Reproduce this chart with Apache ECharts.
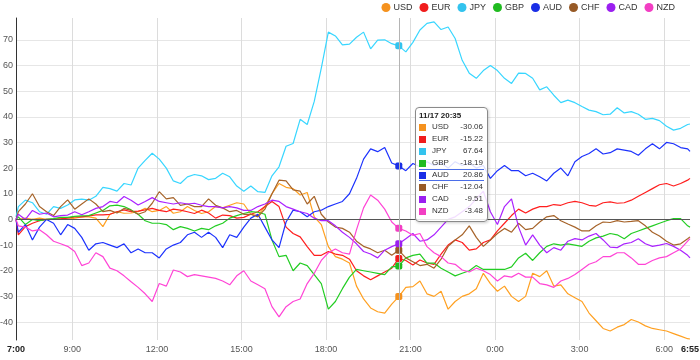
<!DOCTYPE html>
<html>
<head>
<meta charset="utf-8">
<script src="https://cdn.jsdelivr.net/npm/echarts@6/dist/echarts.min.js"></script>
<style>
html,body{margin:0;padding:0;background:#fff;}
#c{width:700px;height:360px;}
</style>
</head>
<body>
<div id="c"></div>
<script>
// sample times (7:00 on 11/17 to 6:55 on 11/18)
const times = ['7:00','7:05','7:20','7:35','7:50','8:05','8:20','8:35','8:50','9:05','9:20','9:35','9:50',
'10:05','10:20','10:35','10:50','11:05','11:20','11:35','11:50','12:05','12:20','12:35','12:50',
'13:05','13:20','13:35','13:50','14:05','14:20','14:35','14:50','15:05','15:20','15:35','15:50',
'16:05','16:20','16:35','16:50','17:05','17:20','17:35','17:50','18:05','18:20','18:35','18:50',
'19:05','19:20','19:35','19:50','20:05','20:20','20:35','20:50','21:05','21:20','21:35','21:50',
'22:05','22:20','22:35','22:50','23:05','23:20','23:35','23:50','0:05','0:20','0:35','0:50',
'1:05','1:20','1:35','1:50','2:05','2:20','2:35','2:50','3:05','3:20','3:35','3:50',
'4:05','4:20','4:35','4:50','5:05','5:20','5:35','5:50','6:05','6:20','6:35','6:50','6:55'];

const USD = [0,
 0,0.5,0,0.5, 0,0,0.5,0, 0.5,1,1,0.5, -2.8,2,3,2.4, 2.5,3,4.3,3, 3.5,5,2.4,3,
 5,3.5,2.3,3, 5,4.5,5.5,6.5, 6,2,1.5,5, 10,14,12.5,12, 9.5,10.5,1,-2, -10.6,-14.5,-15.5,-17,
 -26,-31,-34.5,-36, -36.5,-33,-30.06,-26.5, -26.2,-24,-29,-30, -28,-35,-32,-30, -29,-27,-21,-25, -28,-26,-30,-32,
 -30,-21,-22.3,-20, -26,-25.5,-29,-30.5, -32,-36.5,-39.5,-42.5, -43.5,-42,-41,-39, -40,-41.5,-42.5,-43, -43.5,-44.5,-45.5,-46.5,
 -46.6];
const EUR = [0,
 -6,-2.8,-1.5,-0.5, 0,0,0.2,0.5, 1,1,1.4,1.8, 1.8,2,3,3.7, 3,3.2,3.7,4.3, 3.5,3,4,3.6,
 3,2.3,3.6,2.5, 0.5,1.7,1.5,0.5, 0.8,2,3,5, 7,5,-3,-5.5, -6.8,-10.6,-14,-14, -12.5,-13.5,-14,-15.5,
 -20,-22,-23.5,-22, -20.5,-19,-15.22,-16, -17.8,-15.8,-17,-17.5, -13.5,-10,-8,-9, -12,-11.5,-9,-8, -4.5,-1.5,1.5,4,
 2.5,4,5,5, 5.8,5.5,6.5,7, 6.5,5.5,5.2,6.5, 6.8,6.3,6.5,7.5, 9,10.5,12,13.5, 14,13,14,15.3,
 16];
const JPY = [1,
 5,7.5,6.5,3, 2,5,4.3,5.6, 7.6,7.9,7.5,9, 12.5,12,11,14, 13.4,20,23,25.8, 23.5,20,15,14,
 16.6,17.5,17,15.5, 16,18,16.6,13, 11,13,10.8,10.5, 17,20.5,28.5,29.6, 39,37,46,59, 73,71.5,68,68.3,
 71,73,66.5,69.9, 70,68.5,67.64,65.3, 69,73.8,76.4,77, 74,75,70.5,62, 57,55,58,60, 58,55,53,57,
 56.9,55,50.5,51.7, 48.4,45.5,46.5,45.5, 44,42.6,42,40.8, 41,43.5,41.5,42, 41,39,39.4,38.5, 36.3,34.8,35.5,37,
 37.2];
const GBP = [0,
 1,-2,0,-0.5, 0,0.3,0.8,0.8, 1.2,1.4,1.5,2.5, 3.5,5.3,5.6,5, 3.7,2,-0.5,-1.5, -1.5,-2,-4,-2.8,
 -3.5,-4.5,-3.5,-4, -2.5,-1.5,0.5,1.5, 2.3,3,2.8,2, -8,-14.5,-14,-20, -17,-18,-21.5,-25, -35,-32,-27,-22.5,
 -19.5,-20,-20.5,-21, -21.5,-18.5,-18.19,-15, -14,-13.5,-17,-17, -19,-20.5,-22,-21, -20,-18,-19.5,-19.5, -19.5,-19.5,-18.5,-15,
 -13.2,-16,-13,-10.5, -9.5,-10,-9.5,-10, -10.5,-8.5,-7.2,-6.5, -5.5,-6,-7.5,-5.5, -4.5,-3.5,-2.5,-1.5, -0.5,0.3,0.3,-2.5,
 -3];
const AUD = [0,
 -5,-2,-8,-3, 0,-1.5,-6,-2, -3.5,-7,-12,-9.5, -9,-10,-11,-9.5, -13,-11.5,-13,-13, -15,-11.5,-10,-9,
 -6,-5,-7,-5, -7,-11,-6,-7, -3,0.5,2,-3, -8,-11,-1,3.6, 3,1,3,3.6, 5,6,7,10,
 16,23.5,27.5,26.4, 28,22,20.86,19, 21.8,20.5,22.5,21, 22,20,22.5,21, 22,20,21,16, 19,21,19,19,
 17,18,16.6,15, 18,20,17,22.5, 24.5,25.7,27.5,25.5, 26,27.5,27,26.5, 25,27.5,29.5,27.5, 30,29.5,28,27.5,
 26.5];
const CHF = [0,
 3,6,10,5, 3,1.5,5,7.6, 4,6,8,6, 3,3.5,2.5,4.3, 3.5,2,3,6.3, 10.8,8,8.5,5.5,
 6,5,5,8, 5.5,4.5,3,3.5, 2,2,1,4, 10,15.3,15,11.5, 11,6,9,2, -1,-3,-3.5,-5,
 -8.5,-10.5,-11.5,-13, -12,-14,-12.04,-15, -16.5,-18,-17.5,-19, -15.5,-10.5,-8,-6, -2.5,-7,-10.5,-8, -5.5,-3.5,-5,-1.5,
 -4,-3.5,-1,1, 1.5,-0.5,-1.8,-3, -4.5,-4.5,-2.5,-1, -1.2,-0.5,-1,-0.8, -0.5,-2.5,-5,-6.5, -8.5,-10,-9.5,-7.5,
 -6.8];
const CAD = [0,
 2,0,3.5,2, 2.5,1,1.5,1.7, 3,1.8,3,4.3, 5,7,6.5,8.9, 7.5,5.6,7,8.5, 7,6.5,6,6.5,
 6,6.3,5.5,5, 5,4.5,5,4.5, 3.5,3.5,5,6, 7.5,7,5,4, 3,2.3,0.5,-0.5, -0.5,-2.5,-5,-7,
 -9.5,-12.5,-13.5,-15, -12,-10.6,-9.51,-7.5, -5.5,-8.5,-8,-6, -3,0,1,3, 5,8,11,3, -2,5,8,-3,
 -10,-6,-10,-13, -11,-12,-8.5,-7.5, -8,-6.5,-5.5,-8, -10.8,-11,-9.5,-9, -7.5,-9.5,-10.5,-10, -9.4,-10.5,-12,-14,
 -15];
const NZD = [0,
 -2.5,-3,-4.5,-4, -6,-8.5,-9.5,-10.5, -12.5,-18,-17,-13, -14.5,-19,-20,-22, -24.3,-26.5,-29,-32, -25,-26,-19.7,-20.5,
 -22.3,-21.5,-22,-22.5, -23,-24,-25.5,-22, -20,-24,-25.5,-27, -34,-38,-34,-32, -31,-25,-21,-16, -13,-11.5,-13,-13.5,
 -4,4.5,9.5,7.5, 4,-1,-3.48,-4.5, -6.2,-5.5,-10.6,-13, -14.5,-17,-17.5,-19.7, -20.5,-19,-20,-21.5, -24,-22,-22.5,-21,
 -22.5,-22.5,-25,-25.5, -26.5,-24,-23,-21.5, -19.5,-17.5,-16.5,-14.5, -14.5,-13,-13,-15, -17.5,-17.5,-16,-15, -14.5,-13,-11.5,-8.5,
 -7.5];

const seriesNames = ['USD','EUR','JPY','GBP','AUD','CHF','CAD','NZD'];
const seriesValues = [USD, EUR, JPY, GBP, AUD, CHF, CAD, NZD];
const seriesColors = ['#f5921e','#f01c1c','#33c3ee','#20bb20','#1a2ee6','#975a26','#9b1ff0','#f23ec3'];
const yTicks = [-40,-30,-20,-10,0,10,20,30,40,50,60,70];
const xGridTimes = ['7:00','9:00','12:00','15:00','18:00','21:00','0:00','3:00','6:00'];
const xLabelTimes = ['7:00','9:00','12:00','15:00','18:00','21:00','0:00','3:00','6:00','6:55'];
const tooltipTime = '20:35';
const highlightName = 'AUD';

function toHour(t){ const p=t.split(':'); let v=Number(p[0])+Number(p[1])/60; if(v<7) v+=24; return v; }
function fmtHour(v){ let h=Math.floor(v+1e-6); let m=Math.round((v-h)*60); if(m===60){h++;m=0;} h=h%24; return h+':'+String(m).padStart(2,'0'); }
const xs = times.map(toHour);
const xMin = toHour(times[0]), xMax = toHour(times[times.length-1]);

const chart = echarts.init(document.getElementById('c'), null, {renderer:'canvas'});
const option = {
  animation:false,
  backgroundColor:'#fff',
  grid:{left:16,right:10,top:18,bottom:20,containLabel:false,outerBoundsMode:'none'},
  legend:{
    data:seriesNames, icon:'circle', right:25, top:3, itemWidth:9, itemHeight:9, itemGap:7,
    padding:0, textStyle:{fontSize:9, color:'#333', fontFamily:'Arial, Liberation Sans, sans-serif', padding:[0,0,0,-2]}
  },
  tooltip:{
    trigger:'axis', triggerOn:'none', alwaysShowContent:true, transitionDuration:0,
    position:[415,107],
    backgroundColor:'rgba(255,255,255,0.85)', borderColor:'#8a8a8a', borderWidth:1, borderRadius:4,
    padding:[3,3,4,3],
    shadowBlur:3, shadowOffsetX:1, shadowOffsetY:1, shadowColor:'rgba(0,0,0,0.2)',
    axisPointer:{type:'line', animation:false, lineStyle:{color:'#b4b4b4', width:1, type:'solid'}},
    formatter:function(params){
      const x = params[0].value[0];
      const day = x >= 24 ? '11/18' : '11/17';
      let html = '<div style="font:bold 8px/10px Arial,sans-serif;color:#222;width:65px;">'+day+' '+fmtHour(x)+'</div>';
      params.forEach(function(p){
        const hl = p.seriesName === highlightName;
        html += '<div style="position:relative;box-sizing:border-box;height:12px;width:65px;font:8px/12px Arial,sans-serif;color:#333;'+
          (hl ? 'border-top:1px solid #4b6ee8;border-bottom:1px solid #4b6ee8;line-height:10px;' : '')+'">'+
          '<span style="position:absolute;left:0;top:'+(hl?1.5:2.5)+'px;width:7px;height:7px;background:'+p.color+';"></span>'+
          '<span style="position:absolute;left:13px;top:0;">'+p.seriesName+'</span>'+
          '<span style="position:absolute;right:1px;top:0;">'+p.value[1].toFixed(2)+'</span></div>';
      });
      return html;
    }
  },
  xAxis:{
    type:'value', min:xMin, max:xMax,
    axisLine:{show:false},
    axisTick:{show:false, customValues:xGridTimes.map(toHour)},
    axisLabel:{
      customValues:xLabelTimes.map(toHour), fontSize:9, color:'#555', margin:5,
      fontFamily:'Arial, Liberation Sans, sans-serif',
      formatter:function(v){ const s=fmtHour(v); return (Math.abs(v-xMin)<1e-6 || Math.abs(v-xMax)<1e-6) ? '{b|'+s+'}' : s; },
      rich:{b:{fontWeight:'bold', color:'#222', fontSize:9, fontFamily:'Arial, Liberation Sans, sans-serif'}}
    },
    splitLine:{show:true, lineStyle:{color:'#dcdcdc', width:1}}
  },
  yAxis:{
    type:'value', min:-47, max:78.5,
    axisLine:{show:true, lineStyle:{color:'#333', width:1}},
    axisTick:{show:false, customValues:yTicks},
    axisLabel:{customValues:yTicks, fontSize:9, color:'#555', margin:3, fontFamily:'Arial, Liberation Sans, sans-serif'},
    splitLine:{show:true, lineStyle:{color:'#e6e6e6', width:1}}
  },
  series: seriesNames.map(function(n,i){
    const s = {
      name:n, type:'line',
      data: xs.map(function(x,j){ return [x, seriesValues[i][j]]; }),
      showSymbol:false, symbol:'roundRect', symbolSize:7,
      lineStyle:{width:1.2, color:seriesColors[i]},
      itemStyle:{color:seriesColors[i]},
      emphasis:{scale:false, focus:'none', lineStyle:{width:1.2}},
      z: 3
    };
    if(i===0){
      s.markLine = {silent:true, symbol:'none', animation:false, label:{show:false},
        lineStyle:{color:'#555', width:1, type:'solid'}, data:[{yAxis:0}]};
    }
    return s;
  })
};
chart.setOption(option);
chart.dispatchAction({type:'showTip', seriesIndex:0, dataIndex:times.indexOf(tooltipTime)});
</script>
</body>
</html>
